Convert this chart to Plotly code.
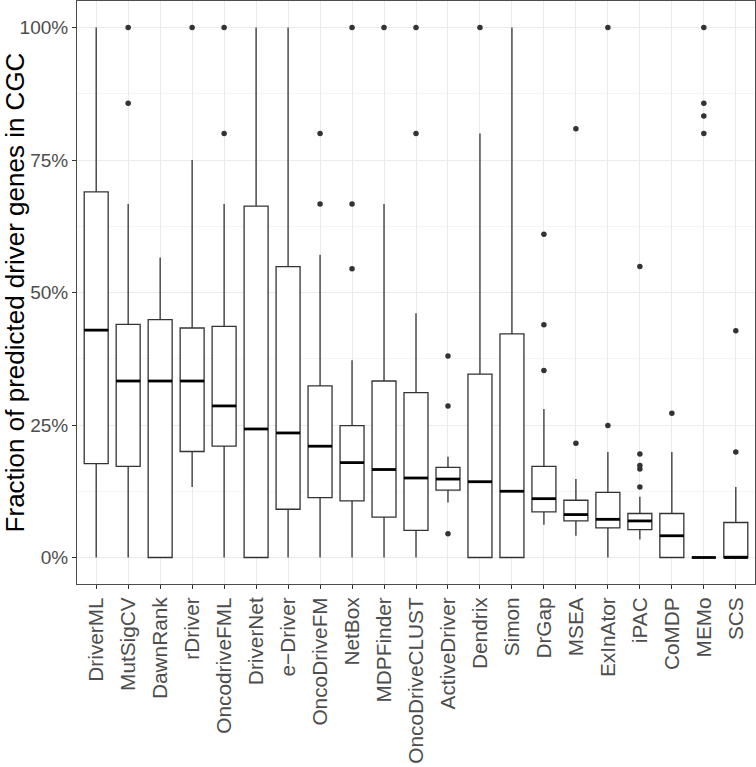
import plotly.graph_objects as go

methods = ["DriverML", "MutSigCV", "DawnRank", "rDriver", "OncodriveFML", "DriverNet",
           "e\u2212Driver", "OncoDriveFM", "NetBox", "MDPFinder", "OncoDriveCLUST",
           "ActiveDriver", "Dendrix", "Simon", "DrGap", "MSEA", "ExInAtor", "iPAC",
           "CoMDP", "MEMo", "SCS"]

lower_whisker = [0, 0, 0, 0.133, 0, 0, 0, 0, 0, 0, 0, 0.104, 0, 0, 0.062, 0.041, 0, 0.034, 0, 0, 0]
q1 = [0.177, 0.172, 0, 0.200, 0.210, 0, 0.091, 0.113, 0.107, 0.076, 0.051, 0.127, 0, 0, 0.086, 0.069, 0.056, 0.0526, 0, 0, 0]
median = [0.429, 0.333, 0.333, 0.333, 0.286, 0.2425, 0.235, 0.210, 0.179, 0.166, 0.150, 0.148, 0.143, 0.125, 0.111, 0.081, 0.072, 0.069, 0.041, 0, 0]
q3 = [0.690, 0.440, 0.449, 0.433, 0.436, 0.663, 0.549, 0.324, 0.249, 0.333, 0.311, 0.170, 0.346, 0.422, 0.172, 0.108, 0.123, 0.083, 0.083, 0, 0.066]
upper_whisker = [1.0, 0.667, 0.566, 0.75, 0.667, 1.0, 1.0, 0.571, 0.372, 0.667, 0.461, 0.190, 0.8, 1.0, 0.28, 0.148, 0.199, 0.1147, 0.199, 0, 0.133]
outliers = [
    [],
    [1.0, 0.857],
    [],
    [1.0],
    [1.0, 0.8],
    [],
    [],
    [0.8, 0.667],
    [1.0, 0.667, 0.545],
    [1.0],
    [1.0, 0.8],
    [0.380, 0.286, 0.045],
    [1.0],
    [],
    [0.61, 0.439, 0.353],
    [0.809, 0.2155],
    [1.0, 0.249],
    [0.549, 0.1955, 0.1735, 0.167, 0.133],
    [0.272],
    [1.0, 0.857, 0.833, 0.8],
    [0.428, 0.199],
]

y_ticks = [0, 0.25, 0.5, 0.75, 1.0]
y_tick_labels = ["0%", "25%", "50%", "75%", "100%"]
y_minor = [0.125, 0.375, 0.625, 0.875]

pos = list(range(len(methods)))
box_w = 0.75
dark = "#333333"

fig = go.Figure()
fig.add_trace(go.Box(
    x=pos, q1=q1, median=median, q3=q3,
    lowerfence=lower_whisker, upperfence=upper_whisker,
    width=box_w, fillcolor="white", whiskerwidth=0,
    line=dict(color=dark, width=1.3), boxpoints=False,
    showlegend=False, hoverinfo="skip",
))

# thicker median segments (ggplot style)
mx, my = [], []
for p, m in zip(pos, median):
    mx += [p - box_w / 2, p + box_w / 2, None]
    my += [m, m, None]
fig.add_trace(go.Scatter(x=mx, y=my, mode="lines", line=dict(color="black", width=2.8),
                         showlegend=False, hoverinfo="skip"))

ox, oy = [], []
for p, outs in zip(pos, outliers):
    for v in outs:
        ox.append(p)
        oy.append(v)
fig.add_trace(go.Scatter(x=ox, y=oy, mode="markers",
                         marker=dict(color=dark, size=5.5, line=dict(width=0)),
                         showlegend=False, hoverinfo="skip"))

font_family = "Liberation Sans, Arial, sans-serif"
fig.update_layout(
    width=756, height=767,
    margin=dict(l=77, r=1, t=1, b=183),
    plot_bgcolor="white", paper_bgcolor="white",
    font=dict(family=font_family, color="#4D4D4D"),
    xaxis=dict(
        range=[-0.6, len(methods) - 0.4],
        tickmode="array", tickvals=pos, ticktext=methods,
        tickangle=-90, tickfont=dict(size=20.8, color="#4D4D4D"),
        showgrid=True, gridcolor="#EBEBEB", gridwidth=1,
        zeroline=False, showline=True, mirror=True, linecolor="#4D4D4D", linewidth=1,
        ticks="outside", ticklen=4, tickcolor="#333333", tickwidth=1,
        automargin=False,
    ),
    yaxis=dict(
        range=[-0.05, 1.05],
        tickmode="array", tickvals=y_ticks, ticktext=y_tick_labels,
        tickfont=dict(size=19, color="#4D4D4D"),
        showgrid=True, gridcolor="#EBEBEB", gridwidth=1,
        minor=dict(tickvals=y_minor, showgrid=True, gridcolor="#F5F5F5", gridwidth=0.6, ticks=""),
        zeroline=False, showline=True, mirror=True, linecolor="#4D4D4D", linewidth=1,
        ticks="outside", ticklen=4, tickcolor="#333333", tickwidth=1,
        automargin=False,
        title=dict(text="Fraction of predicted driver genes in CGC",
                   font=dict(size=26, color="black"), standoff=6),
    ),
)

fig.write_html("out.html", config={"displayModeBar": False},
               post_script="document.body.style.margin='0';")
